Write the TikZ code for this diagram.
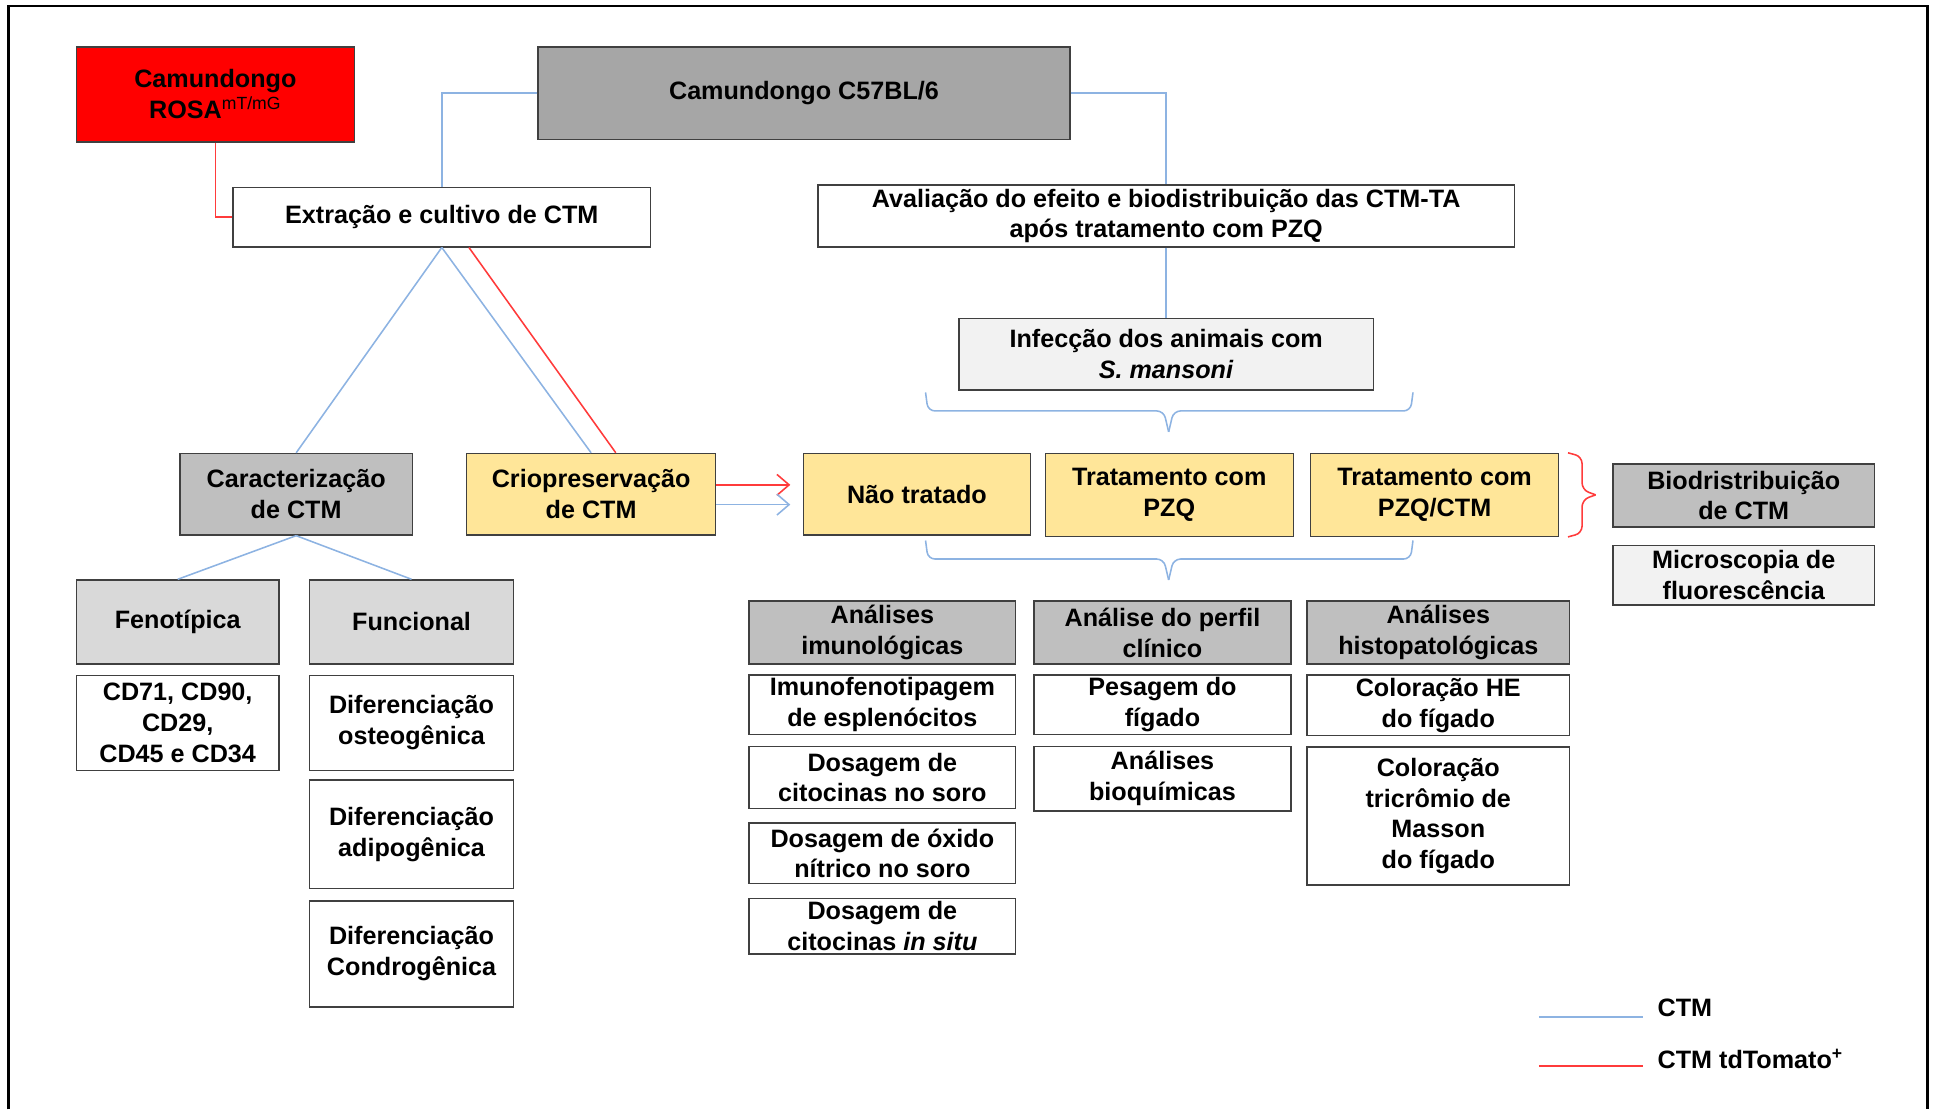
\documentclass[tikz,border=0pt]{standalone}
\usepackage{fontspec}
\setmainfont{Liberation Sans}
\usetikzlibrary{arrows.meta,positioning}

\definecolor{rosared}{HTML}{FF0000}
\definecolor{darkgray}{HTML}{A6A6A6}
\definecolor{midgray}{HTML}{BFBFBF}
\definecolor{lightgray}{HTML}{D9D9D9}
\definecolor{palegray}{HTML}{F2F2F2}
\definecolor{paleyellow}{HTML}{FFE699}
\definecolor{ctmblue}{HTML}{8DB3E2}
\definecolor{tomred}{HTML}{FF3B3B}

\begin{document}
\begin{tikzpicture}
	[x = 0.025cm, y = -0.025cm,
	box/.style = {draw = black!75, line width = 0.8pt, align = center, inner sep = 0pt,
		font = \fontsize{14.5}{17.8}\selectfont\bfseries},
	sz/.style 2 args = {minimum width = #1cm, minimum height = #2cm},
	redbox/.style = {box, fill = rosared},
	dgbox/.style = {box, fill = darkgray},
	mgbox/.style = {box, fill = midgray},
	lgbox/.style = {box, fill = lightgray},
	pgbox/.style = {box, fill = palegray},
	ybox/.style = {box, fill = paleyellow},
	wbox/.style = {box, fill = white},
	ctm/.style = {draw = ctmblue, line width = 0.9pt},
	tom/.style = {draw = tomred, line width = 0.9pt},
	tip/.style = {-{Straight Barb[length = 7pt, width = 12pt]}}]
	\useasboundingbox (0,0) rectangle (1568,899);
	\draw[line width = 1.4pt] (7,899) -- (7,5) -- (1562,5) -- (1562,899);

	\node[redbox, sz = {5.625}{1.925}] (rosa) at (174.5,76.5) {Camundongo\\ROSA\textsuperscript{\mdseries mT/mG}};
	\node[dgbox, sz = {10.775}{1.875}] (c57) at (651.5,75.5) {Camundongo C57BL/6};
	\node[wbox, sz = {8.45}{1.2}] (extr) at (358,176) {Extração e cultivo de CTM};
	\node[wbox, sz = {14.1}{1.25}] (aval) at (945,175) {Avaliação do efeito e biodistribuição das CTM-TA\\após tratamento com PZQ};
	\node[pgbox, sz = {8.4}{1.45}] (infec) at (945,287) {Infecção dos animais com\\\textit{S. mansoni}};

	\node[mgbox, sz = {4.7}{1.65}] (carac) at (240,400.5) {Caracterização\\de CTM};
	\node[ybox, sz = {5.05}{1.65}] (crio) at (479,400.5) {Criopreservação\\de CTM};
	\node[ybox, sz = {4.6}{1.65}] (naotrat) at (743,400.5) {Não tratado};
	\node[ybox, sz = {5.025}{1.675}] (pzq) at (947.5,401) {Tratamento com\\PZQ};
	\node[ybox, sz = {5.025}{1.675}] (pzqctm) at (1162.5,401) {Tratamento com\\PZQ/CTM};
	\node[mgbox, sz = {5.3}{1.275}] (biod) at (1413,401.5) {Biodristribuição\\de CTM};
	\node[pgbox, sz = {5.3}{1.2}, below = 0.35cm of biod] (micro) {Microscopia de\\fluorescência};

	\node[lgbox, sz = {4.1}{1.7}] (feno) at (144,504) {Fenotípica};
	\node[lgbox, sz = {4.125}{1.7}] (func) at (333.5,504) {Funcional};
	\node[wbox, sz = {4.1}{1.925}, below = 0.2cm of feno] (cd) {CD71, CD90,\\CD29,\\CD45 e CD34};
	\node[wbox, sz = {4.125}{1.925}, below = 0.2cm of func] (osteo) {Diferenciação\\osteogênica};
	\node[wbox, sz = {4.125}{2.2}, below = 0.17cm of osteo] (adipo) {Diferenciação\\adipogênica};
	\node[wbox, sz = {4.125}{2.15}, below = 0.22cm of adipo] (condro) {Diferenciação\\Condrogênica};

	\node[mgbox, sz = {5.4}{1.275}] (imuno) at (715,512.5) {Análises\\imunológicas};
	\node[mgbox, sz = {5.2}{1.275}] (perfil) at (942,512.5) {Análise do perfil\\clínico};
	\node[mgbox, sz = {5.325}{1.275}] (histo) at (1165.5,512.5) {Análises\\histopatológicas};
	\node[wbox, sz = {5.4}{1.2}, below = 0.2cm of imuno] (imunofen) {Imunofenotipagem\\de esplenócitos};
	\node[wbox, sz = {5.4}{1.25}, below = 0.22cm of imunofen] (doscit) {Dosagem de\\citocinas no soro};
	\node[wbox, sz = {5.4}{1.225}, below = 0.27cm of doscit] (dosox) {Dosagem de óxido\\nítrico no soro};
	\node[wbox, sz = {5.4}{1.125}, below = 0.27cm of dosox] (dossitu) {Dosagem de\\citocinas \textit{in situ}};
	\node[wbox, sz = {5.2}{1.2}, below = 0.2cm of perfil] (pesagem) {Pesagem do\\fígado};
	\node[wbox, sz = {5.2}{1.3}, below = 0.22cm of pesagem] (bioq) {Análises\\bioquímicas};
	\node[wbox, sz = {5.325}{1.225}, below = 0.2cm of histo] (colhe) {Coloração HE\\do fígado};
	\node[wbox, sz = {5.325}{2.8}, below = 0.2cm of colhe] (coltri) {Coloração\\tricrômio de\\Masson\\do fígado};

	\draw[ctm] (c57.west) -| (extr.north);
	\draw[ctm] (c57.east) -| (aval.north);
	\draw[tom] (rosa.south) |- (extr.west);
	\draw[ctm] (aval.south) -- (infec.north);
	\draw[ctm] (extr.south) -- (carac.north);
	\draw[ctm] (extr.south) -- (crio.north);
	\draw[tom] ([xshift = 0.55cm]extr.south) -- ([xshift = 0.5cm]crio.north);
	\draw[tom, tip] ([yshift = 0.19cm]crio.east) -- ([xshift = -0.25cm, yshift = 0.19cm]naotrat.west);
	\draw[ctm, tip] ([yshift = -0.21cm]crio.east) -- ([xshift = -0.25cm, yshift = -0.21cm]naotrat.west);
	\draw[ctm] (carac.south) -- (feno.north);
	\draw[ctm] (carac.south) -- (func.north);

	\foreach \y in {318,438} {
		\coordinate (tip\y) at (947,\y+32);
		\draw[ctm, rounded corners = 4pt] (750,\y) -- (752,\y+15) -- (943,\y+15) -- (tip\y);
		\draw[ctm, rounded corners = 4pt] (1145,\y) -- (1143,\y+15) -- (951,\y+15) -- (tip\y);
	}
	\coordinate (rtip) at (1293,401);
	\draw[tom, rounded corners = 4pt] (pzqctm.north east) ++(7,0) -- (1282,370) -- (1282,397) -- (rtip);
	\draw[tom, rounded corners = 4pt] (pzqctm.south east) ++(7,0) -- (1282,432) -- (1282,405) -- (rtip);

	\node[anchor = west, inner sep = 0pt, font = \fontsize{14.5}{17.8}\selectfont\bfseries] (leg1) at (1343,817) {CTM};
	\node[anchor = west, inner sep = 0pt, font = \fontsize{14.5}{17.8}\selectfont\bfseries] (leg2) at (1343,858) {CTM tdTomato\textsuperscript{+}};
	\coordinate (l1a) at (1247,824);
	\coordinate (l1b) at (1331,824);
	\coordinate (l2a) at (1247,864);
	\coordinate (l2b) at (1331,864);
	\draw[ctm] (l1a) -- (l1b);
	\draw[tom] (l2a) -- (l2b);
\end{tikzpicture}
\end{document}
